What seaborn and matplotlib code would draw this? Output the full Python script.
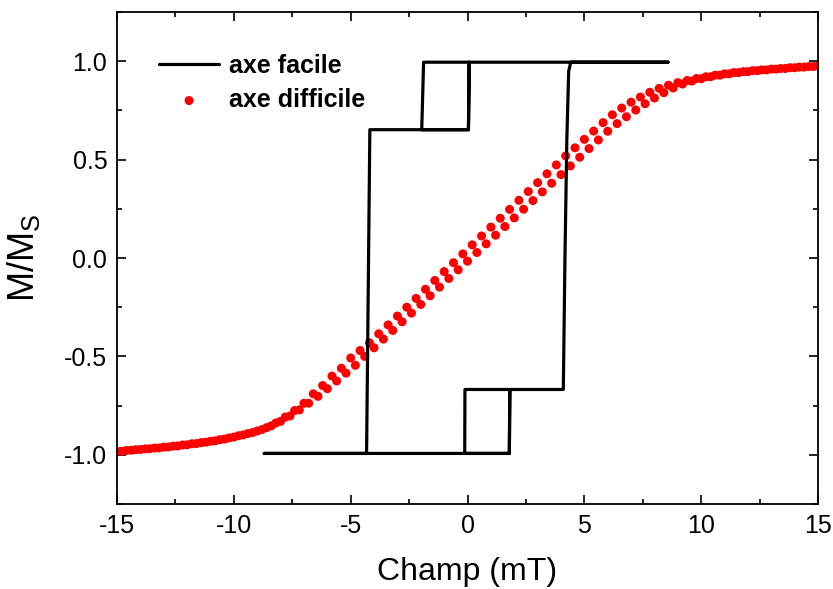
import numpy as np
import pandas as pd
import matplotlib
matplotlib.use("Agg")
import matplotlib.pyplot as plt
import seaborn as sns
from matplotlib.ticker import MultipleLocator, FormatStrFormatter

# --- Easy axis loop (corner points of the square loop, in measurement order) ---
easy_x = [8.58, 0.07, 0.04, -1.96, -1.88, 0.07, 0.04, -4.18, -4.32, -8.70,
          1.79, 1.81, -0.11, -0.12, 1.79, 1.81, 4.10, 4.17, 4.25, 4.33, 4.42, 8.58]
easy_y = [0.995, 0.995, 0.652, 0.652, 0.995, 0.995, 0.652, 0.652, -0.993, -0.993,
          -0.993, -0.668, -0.668, -0.993, -0.993, -0.668, -0.668, 0.0, 0.6, 0.95, 0.995, 0.995]

# --- Hard axis, upper branch ---
hard_up_x = [-15.0, -14.6, -14.2, -13.8, -13.4, -13.0, -12.6, -12.2, -11.8, -11.4,
             -11.0, -10.6, -10.2, -9.8, -9.4, -9.0, -8.6, -8.2, -7.8, -7.4,
             -7.0, -6.6, -6.2, -5.8, -5.4, -5.0, -4.6, -4.2, -3.8, -3.4,
             -3.0, -2.6, -2.2, -1.8, -1.4, -1.0, -0.6, -0.2, 0.2, 0.6,
             1.0, 1.4, 1.8, 2.2, 2.6, 3.0, 3.4, 3.8, 4.2, 4.6,
             5.0, 5.4, 5.8, 6.2, 6.6, 7.0, 7.4, 7.8, 8.2, 8.6,
             9.0, 9.4, 9.8, 10.2, 10.6, 11.0, 11.4, 11.8, 12.2, 12.6,
             13.0, 13.4, 13.8, 14.2, 14.6, 15.0]
hard_up_y = [-0.982, -0.978, -0.974, -0.970, -0.966, -0.961, -0.956, -0.950, -0.944, -0.938,
             -0.931, -0.923, -0.914, -0.903, -0.892, -0.879, -0.862, -0.838, -0.808, -0.775,
             -0.738, -0.690, -0.648, -0.600, -0.560, -0.508, -0.470, -0.431, -0.385, -0.340,
             -0.295, -0.250, -0.205, -0.159, -0.114, -0.069, -0.024, 0.021, 0.067, 0.112,
             0.157, 0.202, 0.247, 0.293, 0.338, 0.383, 0.428, 0.473, 0.519, 0.560,
             0.603, 0.645, 0.688, 0.728, 0.762, 0.792, 0.818, 0.842, 0.862, 0.878,
             0.891, 0.902, 0.912, 0.921, 0.929, 0.936, 0.942, 0.947, 0.952, 0.956,
             0.960, 0.963, 0.967, 0.970, 0.973, 0.976]

# --- Hard axis, lower branch ---
hard_dn_x = [-14.8, -14.4, -14.0, -13.6, -13.2, -12.8, -12.4, -12.0, -11.6, -11.2,
             -10.8, -10.4, -10.0, -9.6, -9.2, -8.8, -8.4, -8.0, -7.6, -7.2,
             -6.8, -6.4, -6.0, -5.6, -5.2, -4.8, -4.4, -4.0, -3.6, -3.2,
             -2.8, -2.4, -2.0, -1.6, -1.2, -0.8, -0.4, 0.0, 0.4, 0.8,
             1.2, 1.6, 2.0, 2.4, 2.8, 3.2, 3.6, 4.0, 4.4, 4.8,
             5.2, 5.6, 6.0, 6.4, 6.8, 7.2, 7.6, 8.0, 8.4, 8.8,
             9.2, 9.6, 10.0, 10.4, 10.8, 11.2, 11.6, 12.0, 12.4, 12.8,
             13.2, 13.6, 14.0, 14.4, 14.8]
hard_dn_y = [-0.982, -0.977, -0.973, -0.969, -0.965, -0.960, -0.955, -0.949, -0.943, -0.936,
             -0.929, -0.920, -0.910, -0.899, -0.887, -0.872, -0.853, -0.830, -0.803, -0.772,
             -0.738, -0.703, -0.664, -0.625, -0.585, -0.545, -0.500, -0.456, -0.412, -0.368,
             -0.324, -0.280, -0.236, -0.192, -0.148, -0.104, -0.060, -0.016, 0.028, 0.072,
             0.116, 0.160, 0.204, 0.248, 0.292, 0.336, 0.380, 0.424, 0.468, 0.512,
             0.556, 0.600, 0.644, 0.683, 0.718, 0.752, 0.784, 0.813, 0.840, 0.864,
             0.884, 0.899, 0.911, 0.921, 0.929, 0.936, 0.942, 0.947, 0.952, 0.956,
             0.960, 0.963, 0.967, 0.970, 0.973]

easy = pd.DataFrame({"champ": easy_x, "m": easy_y})
hard = pd.DataFrame({"champ": hard_up_x + hard_dn_x, "m": hard_up_y + hard_dn_y})

sns.set_style("ticks")
plt.rcParams["font.family"] = ["Liberation Sans", "DejaVu Sans"]
plt.rcParams["axes.unicode_minus"] = False
plt.rcParams["mathtext.default"] = "regular"
plt.rcParams["text.color"] = "black"
plt.rcParams["axes.labelcolor"] = "black"
plt.rcParams["xtick.color"] = "black"
plt.rcParams["ytick.color"] = "black"
plt.rcParams["axes.edgecolor"] = "black"

fig, ax = plt.subplots(figsize=(8.33, 5.89), dpi=100)
fig.subplots_adjust(left=0.1405, right=0.982, top=0.9796, bottom=0.1443)

sns.lineplot(data=easy, x="champ", y="m", sort=False, estimator=None, color="black",
             linewidth=2.3, label="axe facile", ax=ax)
sns.scatterplot(data=hard, x="champ", y="m", color="#ff0000", s=42, edgecolor="none",
                label="axe difficile", ax=ax, zorder=1)

ax.set_xlim(-15, 15)
ax.set_ylim(-1.25, 1.25)
ax.xaxis.set_major_locator(MultipleLocator(5))
ax.xaxis.set_minor_locator(MultipleLocator(2.5))
ax.yaxis.set_major_locator(MultipleLocator(0.5))
ax.yaxis.set_minor_locator(MultipleLocator(0.25))
ax.yaxis.set_major_formatter(FormatStrFormatter("%.1f"))
ax.tick_params(which="both", direction="in", top=True, right=True, width=1.2, labelsize=18, pad=7)
ax.tick_params(which="major", length=6.5)
ax.tick_params(which="minor", length=3.5)
for sp in ax.spines.values():
    sp.set_linewidth(1.3)

ax.set_xlabel("Champ (mT)", fontsize=23, labelpad=14)
ax.set_ylabel("M/M$_S$", fontsize=26, labelpad=0)
ax.yaxis.set_label_coords(-0.107, 0.5)

ax.legend(loc="upper left", bbox_to_anchor=(0.035, 0.95), frameon=False,
          prop={"weight": "bold", "size": 18}, handlelength=2.4, handletextpad=0.4,
          labelspacing=0.4, borderpad=0.2)

plt.savefig("out.png", dpi=100)
